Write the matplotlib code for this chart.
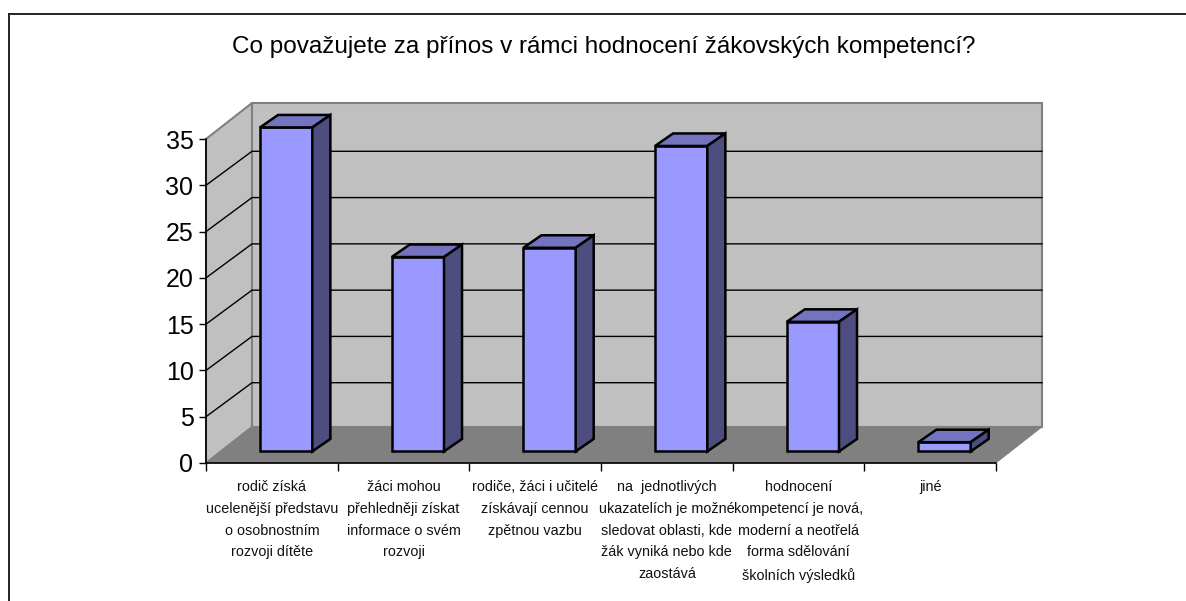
import matplotlib
matplotlib.use("Agg")
import matplotlib.pyplot as plt
from matplotlib.lines import Line2D
from matplotlib.patches import Polygon

plt.rcParams["font.family"] = ["Liberation Sans", "DejaVu Sans"]

title = "Co považujete za přínos v rámci hodnocení žákovských kompetencí?"
categories = [
    "rodič získá\nucelenější představu\no osobnostním\nrozvoji dítěte",
    "žáci mohou\npřehledněji získat\ninformace o svém\nrozvoji",
    "rodiče, žáci i učitelé\nzískávají cennou\nzpětnou vazbu",
    "na  jednotlivých\nukazatelích je možné\nsledovat oblasti, kde\nžák vyniká nebo kde\nzaostává",
    "hodnocení\nkompetencí je nová,\nmoderní a neotřelá\nforma sdělování\nškolních výsledků",
    "jiné",
]
values = [35, 21, 22, 33, 14, 1]
yticks = [0, 5, 10, 15, 20, 25, 30, 35]

W, H = 1186, 601
# pixel box of the front axis
X0, X1, Y0, Y35 = 206, 996, 463, 139
PX_Y = (Y0 - Y35) / 35

# depth of the box and of the bars, in data units
DX = 46 / ((X1 - X0) / 6)
DY = 36 / PX_Y
GRID_DY = 34 / PX_Y
BAR_W = 0.397
BAR_SHIFT = 0.109
BAR_DX = 0.137
BAR_DY = 1.35
BAR_Y0 = 1.25

fig = plt.figure(figsize=(W / 100, H / 100), dpi=100)
# page frame: only the top and left edges are visible
fig.add_artist(Line2D([8.5 / W, 8.5 / W], [0, 1 - 13 / H], color="#222222", lw=1.4, solid_capstyle="butt"))
fig.add_artist(Line2D([7.8 / W, 1], [1 - 13.5 / H, 1 - 13.5 / H], color="#222222", lw=1.4, solid_capstyle="butt"))

ax = fig.add_axes([X0 / W, 1 - Y0 / H, (X1 - X0) / W, (Y0 - Y35) / H])
ax.set_xlim(0, 6)
ax.set_ylim(0, 35)
ax.patch.set_visible(False)

ymax = yticks[-1]
n = len(values)


def poly(pts, **kw):
    ax.add_patch(Polygon(pts, closed=True, clip_on=False, **kw))


# walls and floor
top = ymax + DY
poly([(0, 0), (DX, DY), (DX, top), (0, ymax)], fc="#c0c0c0", ec="#808080", lw=1.5, zorder=1)
poly([(DX, DY), (n + DX, DY), (n + DX, top), (DX, top)], fc="#c0c0c0", ec="#808080", lw=1.5, zorder=1)
poly([(0, 0), (DX, DY), (n + DX, DY), (n, 0)], fc="#808080", ec="#808080", lw=0.5, zorder=2)

# gridlines
for t in yticks[1:-1]:
    ax.plot([0, DX, n + DX], [t, t + GRID_DY, t + GRID_DY], color="black", lw=1, clip_on=False, zorder=3)

# bars
for i, v in enumerate(values):
    l = i + (1 - BAR_W) / 2 + BAR_SHIFT
    r = l + BAR_W
    b = BAR_Y0
    t = BAR_Y0 + v
    style = dict(ec="black", lw=1.8, joinstyle="miter", zorder=5)
    poly([(l, b), (r, b), (r, t), (l, t)], fc="#9999ff", **style)
    poly([(l, t), (r, t), (r + BAR_DX, t + BAR_DY), (l + BAR_DX, t + BAR_DY)], fc="#7373bf", **style)
    poly([(r, b), (r + BAR_DX, b + BAR_DY), (r + BAR_DX, t + BAR_DY), (r, t)], fc="#4d4d80", **style)

# axes
for s in ["top", "right"]:
    ax.spines[s].set_visible(False)
for s in ["left", "bottom"]:
    ax.spines[s].set_linewidth(1.2)
    ax.spines[s].set_color("black")
    ax.spines[s].set_zorder(4)
ax.set_yticks(yticks)
ax.tick_params(axis="y", length=5, width=1, labelsize=18, pad=4, colors="black")
ax.set_xticks(range(n + 1))
ax.set_xticklabels([])
ax.tick_params(axis="x", which="major", length=6, width=1)
ax.set_xticks([i + 0.5 for i in range(n)], minor=True)
ax.set_xticklabels(categories, minor=True, fontsize=10.4, linespacing=1.72, color="#111111")
ax.tick_params(axis="x", which="minor", length=0, pad=12)

fig.text(603.5 / W, 1 - 47 / H, title, ha="center", va="center", fontsize=17.5, color="black")

fig.savefig("out.png", dpi=100)
plt.close(fig)
